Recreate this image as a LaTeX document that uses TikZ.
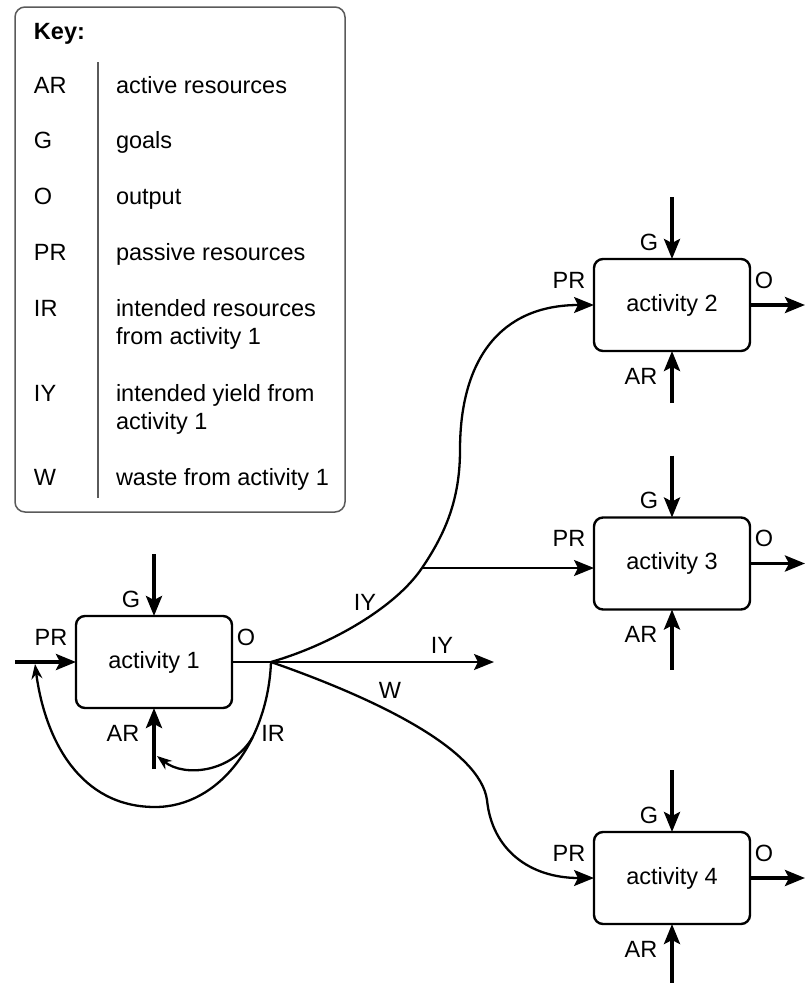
\documentclass[tikz,border=0pt]{standalone}
\usepackage{fontspec}
\setmainfont{Liberation Sans}
\usetikzlibrary{arrows.meta,calc}

\definecolor{keyline}{HTML}{5A5A5A}

% one activity box with its goal, resource and label attachments
\newcommand\activitybox[5]{%
  \node[actbox] (#1) at (#2,#3) {#4};
  \coordinate (#1-gsrc) at ($(#1.north)+(0,-62)$);
  \draw[port] (#1-gsrc) -- (#1.north);
  \coordinate (#1-arsrc) at ($(#1.south)+(0,#5)$);
  \draw[port] (#1-arsrc) -- (#1.south);
  \node (#1-G)  at ($(#1.north)+(-23,-17)$) {G};
  \node (#1-PR) at ($(#1.west)+(-25,-25)$) {PR};
  \node (#1-O)  at ($(#1.east)+(14,-25)$) {O};
  \node (#1-AR) at ($(#1.south)+(-31,25)$) {AR};
}

\begin{document}
\begin{tikzpicture}[x=1pt,y=-1pt,
  every node/.style={font=\fontsize{23.5}{28}\selectfont, inner sep=0pt, outer sep=0pt},
  actbox/.style={draw, line width=2.4pt, rounded corners=9pt,
                 minimum width=156pt, minimum height=92pt},
  port/.style={line width=3.6pt, -{Stealth[length=20pt,width=16pt,inset=4pt]}},
  flow/.style={line width=2.3pt},
  flowarrow/.style={flow, -{Stealth[length=20pt,width=16pt,inset=4pt]}},
  backarrow/.style={flow, -{Stealth[length=15pt,width=11pt,inset=5pt]}},
  keytext/.style={anchor=base west}]

\useasboundingbox (0,0) rectangle (805,983);

% ---------- key ----------
\node[draw=keyline, line width=1.5pt, rounded corners=10pt, anchor=north west,
      minimum width=330pt, minimum height=505pt] (key) at (15,7) {};
\node[keytext, font=\fontsize{23.5}{28}\selectfont\bfseries] (keytitle) at (34,39) {Key:};
\draw[keyline, line width=1.4pt] (98,62) -- (98,498);

\node[keytext] (kAR)  at (34,93)  {AR};
\node[keytext] (kARd) at (116,93) {active resources};
\node[keytext] (kG)   at (34,148) {G};
\node[keytext] (kGd)  at (116,148) {goals};
\node[keytext] (kO)   at (34,204) {O};
\node[keytext] (kOd)  at (116,204) {output};
\node[keytext] (kPR)  at (34,260) {PR};
\node[keytext] (kPRd) at (116,260) {passive resources};
\node[keytext] (kIR)  at (34,316) {IR};
\node[keytext] (kIRd) at (116,316) {intended resources};
\node[keytext] (kIRe) at (116,344) {from activity 1};
\node[keytext] (kIY)  at (34,401) {IY};
\node[keytext] (kIYd) at (116,401) {intended yield from};
\node[keytext] (kIYe) at (116,429) {activity 1};
\node[keytext] (kW)   at (34,485) {W};
\node[keytext] (kWd)  at (116,485) {waste from activity 1};

% ---------- activities ----------
\activitybox{a1}{154}{662}{activity 1}{61}
\activitybox{a2}{672}{305}{activity 2}{52}
\activitybox{a3}{672}{563.5}{activity 3}{60}
\activitybox{a4}{672}{878}{activity 4}{59}

% outputs of activities 2-4 leave at the right rim
\coordinate (rim) at (805,0);
\draw[port] (a2.east) -- (a2.east -| rim);
\draw[port] (a3.east) -- (a3.east -| rim);
\draw[port] (a4.east) -- (a4.east -| rim);

% passive resources into activity 1
\coordinate (a1-prsrc) at (15,662);
\draw[port] (a1-prsrc) -- (a1.west);

% output of activity 1 to the junction
\coordinate (j) at (271,662);
\draw[line width=2.6pt] (a1.east) -- (j);

% intended yield, straight
\coordinate (iyend) at (494,662);
\draw[flowarrow] (j) -- (iyend);
\node (lIYmid) at (442,645) {IY};

% intended yield to activities 2 and 3
\coordinate (br) at (422,568);
\draw[flowarrow] (j) .. controls (330,645) and (395,608) .. (br)
  .. controls (445,534) and (460,500) .. (460,450)
  .. controls (460,360) and (500,305) .. (a2.west);
\draw[flowarrow] (br) -- (br -| a3.west);
\node (lIYup) at (365,602) {IY};

% waste to activity 4
\draw[flowarrow] (j) .. controls (380,700) and (480,750) .. (487,800)
  .. controls (492,850) and (530,878) .. (a4.west);
\node (lW) at (390,690) {W};

% intended resources fed back
\coordinate (prjoin) at (35,664);
\coordinate (arjoin) at (157,756);
\draw[backarrow] (j) .. controls (268,740) and (220,807) .. (155,807) coordinate[pos=0.35] (irs)
  .. controls (80,807) and (45,740) .. (prjoin);
\draw[backarrow] (irs) .. controls (232,772) and (185,778) .. (arjoin);
\node (lIR) at (273,733) {IR};

\end{tikzpicture}
\end{document}
